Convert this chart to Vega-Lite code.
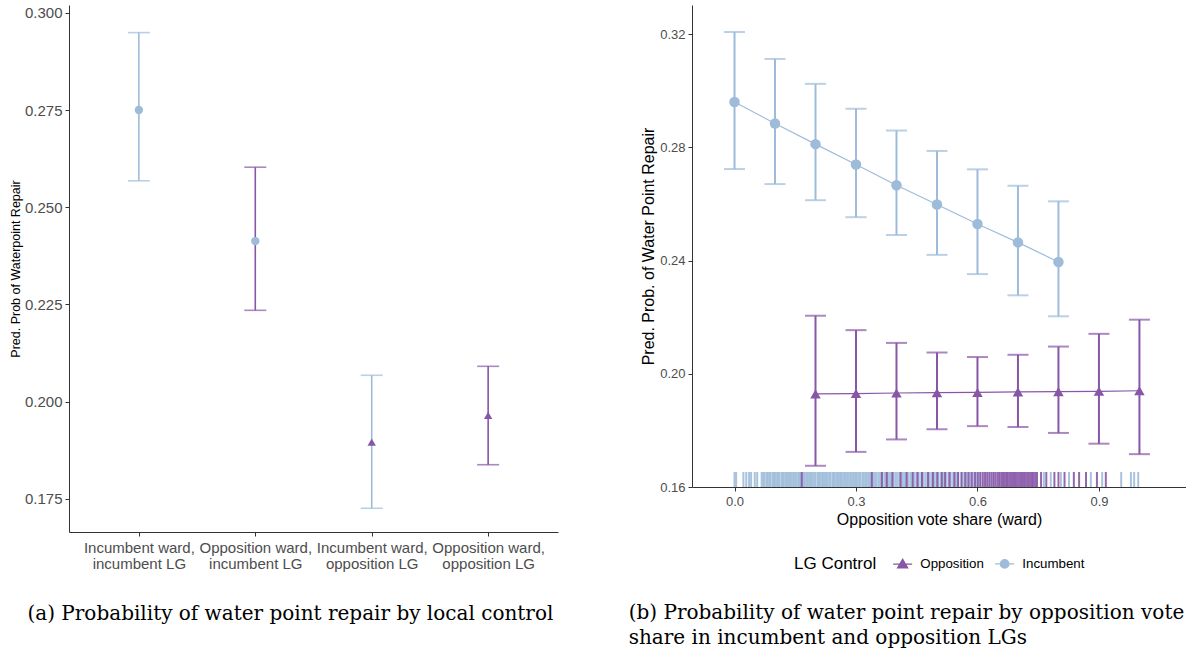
{
  "$schema": "https://vega.github.io/schema/vega-lite/v6.json",
  "background": "white",
  "padding": {"left": 9, "top": 5, "right": 0, "bottom": 0},
  "spacing": 70,
  "config": {
    "view": {"stroke": null},
    "axis": {"grid": false, "domainColor": "#333333", "domainWidth": 1, "tickColor": "#333333", "tickSize": 4, "labelColor": "#4d4d4d", "titleColor": "#000000", "labelFont": "Liberation Sans", "titleFont": "Liberation Sans", "titleFontWeight": "normal"},
    "legend": {"labelFont": "Liberation Sans", "titleFont": "Liberation Sans", "titleFontWeight": "normal", "layout": {"bottom": {"anchor": "middle"}}}
  },
  "datasets": {
    "left": [
      {"cat": "Incumbent ward, incumbent LG", "ward": "Incumbent", "lg": "Incumbent", "est": 0.2750, "lo": 0.2568, "hi": 0.2949},
      {"cat": "Opposition ward, incumbent LG", "ward": "Opposition", "lg": "Incumbent", "est": 0.2413, "lo": 0.2235, "hi": 0.2603},
      {"cat": "Incumbent ward, opposition LG", "ward": "Incumbent", "lg": "Opposition", "est": 0.1896, "lo": 0.1726, "hi": 0.2068},
      {"cat": "Opposition ward, opposition LG", "ward": "Opposition", "lg": "Opposition", "est": 0.1965, "lo": 0.1838, "hi": 0.2091}
    ],
    "right": [
      {"x": 0.0, "lg": "Incumbent", "est": 0.2960, "lo": 0.2723, "hi": 0.3207},
      {"x": 0.1, "lg": "Incumbent", "est": 0.2884, "lo": 0.2670, "hi": 0.3112},
      {"x": 0.2, "lg": "Incumbent", "est": 0.2811, "lo": 0.2613, "hi": 0.3024},
      {"x": 0.3, "lg": "Incumbent", "est": 0.2739, "lo": 0.2553, "hi": 0.2936},
      {"x": 0.4, "lg": "Incumbent", "est": 0.2666, "lo": 0.2490, "hi": 0.2859},
      {"x": 0.5, "lg": "Incumbent", "est": 0.2598, "lo": 0.2420, "hi": 0.2787},
      {"x": 0.6, "lg": "Incumbent", "est": 0.2529, "lo": 0.2352, "hi": 0.2722},
      {"x": 0.7, "lg": "Incumbent", "est": 0.2464, "lo": 0.2277, "hi": 0.2664},
      {"x": 0.8, "lg": "Incumbent", "est": 0.2395, "lo": 0.2203, "hi": 0.2609},
      {"x": 0.2, "lg": "Opposition", "est": 0.1929, "lo": 0.1675, "hi": 0.2205},
      {"x": 0.3, "lg": "Opposition", "est": 0.1930, "lo": 0.1724, "hi": 0.2154},
      {"x": 0.4, "lg": "Opposition", "est": 0.1932, "lo": 0.1768, "hi": 0.2109},
      {"x": 0.5, "lg": "Opposition", "est": 0.1933, "lo": 0.1804, "hi": 0.2075},
      {"x": 0.6, "lg": "Opposition", "est": 0.1934, "lo": 0.1815, "hi": 0.2059},
      {"x": 0.7, "lg": "Opposition", "est": 0.1936, "lo": 0.1812, "hi": 0.2067},
      {"x": 0.8, "lg": "Opposition", "est": 0.1937, "lo": 0.1791, "hi": 0.2096},
      {"x": 0.9, "lg": "Opposition", "est": 0.1938, "lo": 0.1753, "hi": 0.2141},
      {"x": 1.0, "lg": "Opposition", "est": 0.1940, "lo": 0.1716, "hi": 0.2191}
    ],
    "rug": [
      {"x": 0.0, "lg": "Incumbent"}, {"x": 0.004, "lg": "Incumbent"}, {"x": 0.022, "lg": "Incumbent"}, {"x": 0.029, "lg": "Incumbent"}, {"x": 0.036, "lg": "Incumbent"}, {"x": 0.041, "lg": "Incumbent"}, {"x": 0.05, "lg": "Incumbent"}, {"x": 0.056, "lg": "Incumbent"},
      {"x": 0.067, "lg": "Incumbent"}, {"x": 0.071, "lg": "Incumbent"}, {"x": 0.074, "lg": "Incumbent"}, {"x": 0.079, "lg": "Incumbent"}, {"x": 0.082, "lg": "Incumbent"}, {"x": 0.086, "lg": "Incumbent"}, {"x": 0.089, "lg": "Incumbent"}, {"x": 0.094, "lg": "Incumbent"},
      {"x": 0.097, "lg": "Incumbent"}, {"x": 0.1, "lg": "Incumbent"}, {"x": 0.105, "lg": "Incumbent"}, {"x": 0.108, "lg": "Incumbent"}, {"x": 0.111, "lg": "Incumbent"}, {"x": 0.116, "lg": "Incumbent"}, {"x": 0.119, "lg": "Incumbent"}, {"x": 0.122, "lg": "Incumbent"},
      {"x": 0.127, "lg": "Incumbent"}, {"x": 0.13, "lg": "Incumbent"}, {"x": 0.134, "lg": "Incumbent"}, {"x": 0.137, "lg": "Incumbent"}, {"x": 0.141, "lg": "Incumbent"}, {"x": 0.145, "lg": "Incumbent"}, {"x": 0.148, "lg": "Incumbent"}, {"x": 0.152, "lg": "Incumbent"},
      {"x": 0.157, "lg": "Incumbent"}, {"x": 0.16, "lg": "Incumbent"}, {"x": 0.163, "lg": "Incumbent"}, {"x": 0.168, "lg": "Incumbent"}, {"x": 0.171, "lg": "Incumbent"}, {"x": 0.174, "lg": "Incumbent"}, {"x": 0.179, "lg": "Incumbent"}, {"x": 0.182, "lg": "Incumbent"},
      {"x": 0.186, "lg": "Incumbent"}, {"x": 0.189, "lg": "Incumbent"}, {"x": 0.193, "lg": "Incumbent"}, {"x": 0.197, "lg": "Incumbent"}, {"x": 0.2, "lg": "Incumbent"}, {"x": 0.205, "lg": "Incumbent"}, {"x": 0.208, "lg": "Incumbent"}, {"x": 0.211, "lg": "Incumbent"},
      {"x": 0.216, "lg": "Incumbent"}, {"x": 0.219, "lg": "Incumbent"}, {"x": 0.223, "lg": "Incumbent"}, {"x": 0.226, "lg": "Incumbent"}, {"x": 0.23, "lg": "Incumbent"}, {"x": 0.234, "lg": "Incumbent"}, {"x": 0.237, "lg": "Incumbent"}, {"x": 0.242, "lg": "Incumbent"},
      {"x": 0.245, "lg": "Incumbent"}, {"x": 0.248, "lg": "Incumbent"}, {"x": 0.253, "lg": "Incumbent"}, {"x": 0.256, "lg": "Incumbent"}, {"x": 0.26, "lg": "Incumbent"}, {"x": 0.263, "lg": "Incumbent"}, {"x": 0.267, "lg": "Incumbent"}, {"x": 0.271, "lg": "Incumbent"},
      {"x": 0.274, "lg": "Incumbent"}, {"x": 0.278, "lg": "Incumbent"}, {"x": 0.282, "lg": "Incumbent"}, {"x": 0.286, "lg": "Incumbent"}, {"x": 0.289, "lg": "Incumbent"}, {"x": 0.293, "lg": "Incumbent"}, {"x": 0.297, "lg": "Incumbent"}, {"x": 0.3, "lg": "Incumbent"},
      {"x": 0.304, "lg": "Incumbent"}, {"x": 0.308, "lg": "Incumbent"}, {"x": 0.311, "lg": "Incumbent"}, {"x": 0.316, "lg": "Incumbent"}, {"x": 0.319, "lg": "Incumbent"}, {"x": 0.323, "lg": "Incumbent"}, {"x": 0.326, "lg": "Incumbent"}, {"x": 0.33, "lg": "Incumbent"},
      {"x": 0.334, "lg": "Incumbent"}, {"x": 0.338, "lg": "Incumbent"}, {"x": 0.342, "lg": "Incumbent"}, {"x": 0.347, "lg": "Incumbent"}, {"x": 0.351, "lg": "Incumbent"}, {"x": 0.356, "lg": "Incumbent"}, {"x": 0.36, "lg": "Incumbent"}, {"x": 0.365, "lg": "Incumbent"},
      {"x": 0.37, "lg": "Incumbent"}, {"x": 0.374, "lg": "Incumbent"}, {"x": 0.379, "lg": "Incumbent"}, {"x": 0.384, "lg": "Incumbent"}, {"x": 0.388, "lg": "Incumbent"}, {"x": 0.393, "lg": "Incumbent"}, {"x": 0.398, "lg": "Incumbent"}, {"x": 0.402, "lg": "Incumbent"},
      {"x": 0.407, "lg": "Incumbent"}, {"x": 0.412, "lg": "Incumbent"}, {"x": 0.416, "lg": "Incumbent"}, {"x": 0.421, "lg": "Incumbent"}, {"x": 0.426, "lg": "Incumbent"}, {"x": 0.43, "lg": "Incumbent"}, {"x": 0.435, "lg": "Incumbent"}, {"x": 0.44, "lg": "Incumbent"},
      {"x": 0.445, "lg": "Incumbent"}, {"x": 0.45, "lg": "Incumbent"}, {"x": 0.455, "lg": "Incumbent"}, {"x": 0.461, "lg": "Incumbent"}, {"x": 0.466, "lg": "Incumbent"}, {"x": 0.471, "lg": "Incumbent"}, {"x": 0.476, "lg": "Incumbent"}, {"x": 0.482, "lg": "Incumbent"},
      {"x": 0.487, "lg": "Incumbent"}, {"x": 0.493, "lg": "Incumbent"}, {"x": 0.498, "lg": "Incumbent"}, {"x": 0.504, "lg": "Incumbent"}, {"x": 0.51, "lg": "Incumbent"}, {"x": 0.516, "lg": "Incumbent"}, {"x": 0.522, "lg": "Incumbent"}, {"x": 0.528, "lg": "Incumbent"},
      {"x": 0.534, "lg": "Incumbent"}, {"x": 0.54, "lg": "Incumbent"}, {"x": 0.547, "lg": "Incumbent"}, {"x": 0.553, "lg": "Incumbent"}, {"x": 0.56, "lg": "Incumbent"}, {"x": 0.567, "lg": "Incumbent"}, {"x": 0.574, "lg": "Incumbent"}, {"x": 0.582, "lg": "Incumbent"},
      {"x": 0.59, "lg": "Incumbent"}, {"x": 0.598, "lg": "Incumbent"}, {"x": 0.607, "lg": "Incumbent"}, {"x": 0.617, "lg": "Incumbent"}, {"x": 0.628, "lg": "Incumbent"}, {"x": 0.64, "lg": "Incumbent"}, {"x": 0.655, "lg": "Incumbent"}, {"x": 0.672, "lg": "Incumbent"},
      {"x": 0.69, "lg": "Incumbent"}, {"x": 0.71, "lg": "Incumbent"}, {"x": 0.735, "lg": "Incumbent"}, {"x": 0.764, "lg": "Incumbent"}, {"x": 0.781, "lg": "Incumbent"}, {"x": 0.806, "lg": "Incumbent"}, {"x": 0.826, "lg": "Incumbent"}, {"x": 0.88, "lg": "Incumbent"},
      {"x": 0.908, "lg": "Incumbent"}, {"x": 0.955, "lg": "Incumbent"}, {"x": 0.979, "lg": "Incumbent"}, {"x": 0.987, "lg": "Incumbent"}, {"x": 0.997, "lg": "Incumbent"},
      {"x": 0.166, "lg": "Opposition"}, {"x": 0.339, "lg": "Opposition"}, {"x": 0.364, "lg": "Opposition"}, {"x": 0.376, "lg": "Opposition"}, {"x": 0.39, "lg": "Opposition"}, {"x": 0.41, "lg": "Opposition"}, {"x": 0.425, "lg": "Opposition"}, {"x": 0.44, "lg": "Opposition"},
      {"x": 0.452, "lg": "Opposition"}, {"x": 0.463, "lg": "Opposition"}, {"x": 0.478, "lg": "Opposition"}, {"x": 0.49, "lg": "Opposition"}, {"x": 0.501, "lg": "Opposition"}, {"x": 0.512, "lg": "Opposition"}, {"x": 0.52, "lg": "Opposition"}, {"x": 0.531, "lg": "Opposition"},
      {"x": 0.543, "lg": "Opposition"}, {"x": 0.552, "lg": "Opposition"}, {"x": 0.561, "lg": "Opposition"}, {"x": 0.57, "lg": "Opposition"}, {"x": 0.578, "lg": "Opposition"}, {"x": 0.586, "lg": "Opposition"}, {"x": 0.594, "lg": "Opposition"}, {"x": 0.601, "lg": "Opposition"},
      {"x": 0.607, "lg": "Opposition"}, {"x": 0.613, "lg": "Opposition"}, {"x": 0.619, "lg": "Opposition"}, {"x": 0.624, "lg": "Opposition"}, {"x": 0.63, "lg": "Opposition"}, {"x": 0.635, "lg": "Opposition"}, {"x": 0.64, "lg": "Opposition"}, {"x": 0.645, "lg": "Opposition"},
      {"x": 0.65, "lg": "Opposition"}, {"x": 0.654, "lg": "Opposition"}, {"x": 0.659, "lg": "Opposition"}, {"x": 0.663, "lg": "Opposition"}, {"x": 0.667, "lg": "Opposition"}, {"x": 0.671, "lg": "Opposition"}, {"x": 0.675, "lg": "Opposition"}, {"x": 0.679, "lg": "Opposition"},
      {"x": 0.683, "lg": "Opposition"}, {"x": 0.687, "lg": "Opposition"}, {"x": 0.691, "lg": "Opposition"}, {"x": 0.695, "lg": "Opposition"}, {"x": 0.699, "lg": "Opposition"}, {"x": 0.703, "lg": "Opposition"}, {"x": 0.707, "lg": "Opposition"}, {"x": 0.711, "lg": "Opposition"},
      {"x": 0.715, "lg": "Opposition"}, {"x": 0.719, "lg": "Opposition"}, {"x": 0.723, "lg": "Opposition"}, {"x": 0.727, "lg": "Opposition"}, {"x": 0.731, "lg": "Opposition"}, {"x": 0.735, "lg": "Opposition"}, {"x": 0.739, "lg": "Opposition"}, {"x": 0.743, "lg": "Opposition"},
      {"x": 0.747, "lg": "Opposition"}, {"x": 0.757, "lg": "Opposition"}, {"x": 0.77, "lg": "Opposition"}, {"x": 0.79, "lg": "Opposition"}, {"x": 0.8, "lg": "Opposition"}, {"x": 0.815, "lg": "Opposition"}, {"x": 0.838, "lg": "Opposition"}, {"x": 0.851, "lg": "Opposition"},
      {"x": 0.868, "lg": "Opposition"}, {"x": 0.895, "lg": "Opposition"}, {"x": 0.917, "lg": "Opposition"}
    ]
  },
  "hconcat": [
    {
      "width": 489,
      "height": 527,
      "data": {"name": "left"},
      "title": {"text": "(a) Probability of water point repair by local control", "orient": "bottom", "anchor": "start", "frame": "bounds", "dx": 18, "offset": 33, "font": "DejaVu Serif", "fontSize": 20, "fontWeight": "normal", "color": "#000000"},
      "encoding": {
        "x": {"field": "cat", "type": "nominal", "sort": null, "scale": {"type": "point", "padding": 0.6},
          "axis": {"title": null, "labelAngle": 0, "labelFontSize": 15, "labelPadding": 4, "labelLineHeight": 16, "labelExpr": "[split(datum.label, ', ')[0] + ',', split(datum.label, ', ')[1]]"}}
      },
      "layer": [
        {
          "mark": {"type": "rule", "strokeWidth": 1.6},
          "encoding": {
            "y": {"field": "lo", "type": "quantitative", "scale": {"domain": [0.1665, 0.302], "nice": false, "zero": false},
              "axis": {"title": "Pred. Prob of Waterpoint Repair", "titleFontSize": 12.5, "titlePadding": 2, "values": [0.175, 0.2, 0.225, 0.25, 0.275, 0.3], "format": ".3f", "labelFontSize": 15, "labelPadding": 3}},
            "y2": {"field": "hi"},
            "color": {"field": "ward", "type": "nominal", "scale": {"domain": ["Opposition", "Incumbent"], "range": ["#8856a7", "#9ebcda"]}, "legend": null}
          }
        },
        {
          "mark": {"type": "tick", "thickness": 1.6, "size": 22},
          "encoding": {
            "y": {"field": "hi", "type": "quantitative"},
            "color": {"field": "ward", "type": "nominal", "legend": null}
          }
        },
        {
          "mark": {"type": "tick", "thickness": 1.6, "size": 22},
          "encoding": {
            "y": {"field": "lo", "type": "quantitative"},
            "color": {"field": "ward", "type": "nominal", "legend": null}
          }
        },
        {
          "mark": {"type": "point", "filled": true, "opacity": 1, "size": 70},
          "encoding": {
            "y": {"field": "est", "type": "quantitative"},
            "color": {"field": "lg", "type": "nominal", "legend": null},
            "shape": {"field": "lg", "type": "nominal", "scale": {"domain": ["Opposition", "Incumbent"], "range": ["triangle-up", "circle"]}, "legend": null}
          }
        }
      ]
    },
    {
      "width": 494,
      "height": 482,
      "title": {"text": ["(b) Probability of water point repair by opposition vote", "share in incumbent and opposition LGs"], "orient": "bottom", "anchor": "start", "frame": "bounds", "dx": -12, "offset": 31, "lineHeight": 25, "font": "DejaVu Serif", "fontSize": 20, "fontWeight": "normal", "color": "#000000"},
      "resolve": {"scale": {"color": "independent", "shape": "independent", "stroke": "independent"}},
      "layer": [
        {
          "data": {"name": "rug"},
          "mark": {"type": "rule", "strokeWidth": 2, "opacity": 0.9},
          "encoding": {
            "x": {"field": "x", "type": "quantitative"},
            "y": {"datum": 0.16},
            "y2": {"datum": 0.1653},
            "color": {"field": "lg", "type": "nominal", "scale": {"domain": ["Opposition", "Incumbent"], "range": ["#8856a7", "#9ebcda"]}, "legend": null}
          }
        },
        {
          "data": {"name": "right"},
          "mark": {"type": "rule", "strokeWidth": 2},
          "encoding": {
            "x": {"field": "x", "type": "quantitative", "scale": {"domain": [-0.105, 1.115], "nice": false, "zero": false},
              "axis": {"title": "Opposition vote share (ward)", "values": [0, 0.3, 0.6, 0.9], "format": ".1f", "labelFontSize": 13, "labelPadding": 4, "titleFontSize": 16, "titlePadding": 3}},
            "y": {"field": "lo", "type": "quantitative", "scale": {"domain": [0.16, 0.33025], "nice": false, "zero": false},
              "axis": {"title": "Pred. Prob. of Water Point Repair", "titleFontSize": 16, "titlePadding": 3, "values": [0.16, 0.2, 0.24, 0.28, 0.32], "format": ".2f", "labelFontSize": 13, "labelPadding": 3}},
            "y2": {"field": "hi"},
            "color": {"field": "lg", "type": "nominal", "scale": {"domain": ["Opposition", "Incumbent"], "range": ["#8856a7", "#9ebcda"]}, "legend": null}
          }
        },
        {
          "data": {"name": "right"},
          "mark": {"type": "tick", "orient": "horizontal", "thickness": 2, "size": 21},
          "encoding": {
            "x": {"field": "x", "type": "quantitative"},
            "y": {"field": "hi", "type": "quantitative"},
            "color": {"field": "lg", "type": "nominal", "scale": {"domain": ["Opposition", "Incumbent"], "range": ["#8856a7", "#9ebcda"]}, "legend": null}
          }
        },
        {
          "data": {"name": "right"},
          "mark": {"type": "tick", "orient": "horizontal", "thickness": 2, "size": 21},
          "encoding": {
            "x": {"field": "x", "type": "quantitative"},
            "y": {"field": "lo", "type": "quantitative"},
            "color": {"field": "lg", "type": "nominal", "scale": {"domain": ["Opposition", "Incumbent"], "range": ["#8856a7", "#9ebcda"]}, "legend": null}
          }
        },
        {
          "data": {"name": "right"},
          "mark": {"type": "line", "strokeWidth": 1.2},
          "encoding": {
            "x": {"field": "x", "type": "quantitative"},
            "y": {"field": "est", "type": "quantitative"},
            "color": {"field": "lg", "type": "nominal", "scale": {"domain": ["Opposition", "Incumbent"], "range": ["#8856a7", "#9ebcda"]}, "legend": null}
          }
        },
        {
          "data": {"name": "right"},
          "mark": {"type": "point", "filled": true, "opacity": 1, "size": 110},
          "encoding": {
            "x": {"field": "x", "type": "quantitative"},
            "y": {"field": "est", "type": "quantitative"},
            "color": {"field": "lg", "type": "nominal", "scale": {"domain": ["Opposition", "Incumbent"], "range": ["#8856a7", "#9ebcda"]}, "legend": null},
            "shape": {"field": "lg", "type": "nominal", "scale": {"domain": ["Opposition", "Incumbent"], "range": ["triangle-up", "circle"]}, "legend": null}
          }
        },
        {
          "data": {"name": "right"},
          "mark": {"type": "point", "filled": true, "opacity": 1, "size": 0, "strokeWidth": 1.3},
          "encoding": {
            "x": {"field": "x", "type": "quantitative"},
            "y": {"field": "est", "type": "quantitative"},
            "color": {"field": "lg", "type": "nominal", "scale": {"domain": ["Opposition", "Incumbent"], "range": ["#8856a7", "#9ebcda"]},
              "legend": {"title": "LG Control", "orient": "bottom", "direction": "horizontal", "titleOrient": "left", "titleFontSize": 17, "titleColor": "#000000", "titlePadding": 19, "labelFontSize": 13.3, "labelColor": "#000000", "labelOffset": 11, "symbolSize": 100, "symbolStrokeWidth": 1.3, "offset": 30, "columnPadding": 8}},
            "stroke": {"field": "lg", "type": "nominal", "scale": {"domain": ["Opposition", "Incumbent"], "range": ["#8856a7", "#9ebcda"]},
              "legend": {"title": "LG Control", "orient": "bottom", "direction": "horizontal", "titleOrient": "left", "titleFontSize": 17, "titleColor": "#000000", "titlePadding": 19, "labelFontSize": 13.3, "labelColor": "#000000", "labelOffset": 11, "symbolSize": 100, "symbolStrokeWidth": 1.3, "offset": 30, "columnPadding": 8}},
            "shape": {"field": "lg", "type": "nominal", "scale": {"domain": ["Opposition", "Incumbent"], "range": ["M-1.9,0H1.9M0,-0.95L1,0.75L-1,0.75Z", "M-1.9,0H1.9M0.85,0A0.85,0.85,0,1,1,-0.85,0A0.85,0.85,0,1,1,0.85,0Z"]},
              "legend": {"title": "LG Control", "orient": "bottom", "direction": "horizontal", "titleOrient": "left", "titleFontSize": 17, "titleColor": "#000000", "titlePadding": 19, "labelFontSize": 13.3, "labelColor": "#000000", "labelOffset": 11, "symbolSize": 100, "symbolStrokeWidth": 1.3, "offset": 30, "columnPadding": 8}}
          }
        }
      ]
    }
  ],
  "resolve": {"scale": {"color": "independent", "shape": "independent", "x": "independent", "y": "independent"}, "legend": {"color": "independent", "shape": "independent"}}
}
